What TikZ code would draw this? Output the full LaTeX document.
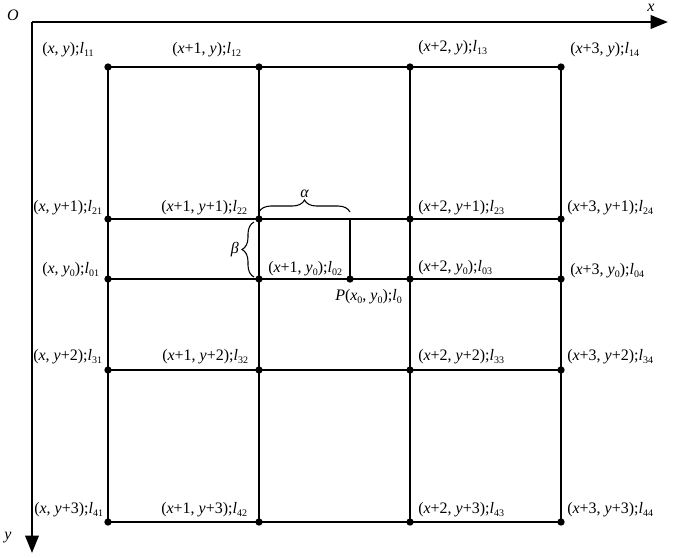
\documentclass[tikz,border=0pt]{standalone}
\usepackage{fontspec}
\setmainfont{Liberation Serif}
\usetikzlibrary{arrows.meta,decorations.pathreplacing}
\newcommand{\lsb}[1]{\textit{l}\raisebox{-0.4ex}{\fontsize{7.5}{8}\selectfont #1}}
\newcommand{\ix}{\textit{x}}
\newcommand{\iy}{\textit{y}}
\newcommand{\yz}{\textit{y}\raisebox{-0.4ex}{\fontsize{7.5}{8}\selectfont 0}}
\begin{document}
\begin{tikzpicture}[x=0.75pt,y=-0.75pt,
  grid/.style={line width=1.4pt},
  axis/.style={line width=1.8pt,-{Triangle[length=13pt,width=10pt]}},
  dot/.style={circle,fill=black,inner sep=0pt,minimum size=5.5pt},
  lab/.style={anchor=west,inner sep=0pt,font=\fontsize{12}{14}\selectfont},
  brc/.style={decorate,decoration={brace,amplitude=9pt},line width=0.8pt}]
\useasboundingbox (0,0) rectangle (678,558);
% axes
\coordinate (O) at (32,22);
\coordinate (xe) at (668,22);
\coordinate (ye) at (32,553);
\draw[axis] (O) -- (xe);
\draw[axis] (O) -- (ye);
\node[inner sep=0pt,font=\itshape\fontsize{12}{14}\selectfont] (Olab) at (13,15) {O};
\node[inner sep=0pt,font=\itshape\fontsize{12}{14}\selectfont] (xlab) at (651,8) {x};
\node[inner sep=0pt,font=\itshape\fontsize{12}{14}\selectfont] (ylab) at (8,538) {y};
% grid coordinates
\foreach \c/\xx in {1/108,2/259,3/410,4/561}{
  \foreach \r/\yy in {1/67,2/219,0/279,3/370,4/522}{
    \coordinate (p\r\c) at (\xx,\yy);
  }
}
\coordinate (Ptop) at (350,219);
\coordinate (P) at (350,279);
% grid lines
\foreach \r in {1,2,0,3,4}{\draw[grid] (p\r1) -- (p\r4);}
\foreach \c in {1,2,3,4}{\draw[grid] (p1\c) -- (p4\c);}
\draw[grid] (Ptop) -- (P);
% dots
\foreach \c in {1,2,3,4}{\foreach \r in {1,2,0,3,4}{\node[dot] (d\r\c) at (p\r\c) {};}}
\node[dot] (dP) at (P) {};
% braces
\draw[brc] (259,212) -- node[above=9pt,inner sep=1pt,font=\itshape\fontsize{12}{14}\selectfont] (alab) {α} (350,212);
\draw[brc] (254,277) -- node[left=10pt,inner sep=1pt,font=\itshape\fontsize{12}{14}\selectfont] (blab) {β} (254,222);
% labels row 1
\node[lab] (l11) at (42,50) {(\ix, \iy);\lsb{11}};
\node[lab] (l12) at (172,50) {(\ix+1, \iy);\lsb{12}};
\node[lab] (l13) at (418,48) {(\ix+2, \iy);\lsb{13}};
\node[lab] (l14) at (570,50) {(\ix+3, \iy);\lsb{14}};
% row 2
\node[lab] (l21) at (33,208) {(\ix, \iy+1);\lsb{21}};
\node[lab] (l22) at (161,208) {(\ix+1, \iy+1);\lsb{22}};
\node[lab] (l23) at (418,208) {(\ix+2, \iy+1);\lsb{23}};
\node[lab] (l24) at (567,208) {(\ix+3, \iy+1);\lsb{24}};
% row 0
\node[lab] (l01) at (42,270) {(\ix, \yz);\lsb{01}};
\node[lab] (l02) at (268,269) {(\ix+1, \yz);\lsb{02}};
\node[lab] (l03) at (418,268) {(\ix+2, \yz);\lsb{03}};
\node[lab] (l04) at (570,271) {(\ix+3, \yz);\lsb{04}};
\node[lab] (lP) at (335,297) {\textit{P}(\textit{x}\raisebox{-0.4ex}{\fontsize{7.5}{8}\selectfont 0}, \yz);\lsb{0}};
% row 3
\node[lab] (l31) at (33,357) {(\ix, \iy+2);\lsb{31}};
\node[lab] (l32) at (162,357) {(\ix+1, \iy+2);\lsb{32}};
\node[lab] (l33) at (418,357) {(\ix+2, \iy+2);\lsb{33}};
\node[lab] (l34) at (567,357) {(\ix+3, \iy+2);\lsb{34}};
% row 4
\node[lab] (l41) at (34,510) {(\ix, \iy+3);\lsb{41}};
\node[lab] (l42) at (161,510) {(\ix+1, \iy+3);\lsb{42}};
\node[lab] (l43) at (418,510) {(\ix+2, \iy+3);\lsb{43}};
\node[lab] (l44) at (567,510) {(\ix+3, \iy+3);\lsb{44}};
\end{tikzpicture}
\end{document}
